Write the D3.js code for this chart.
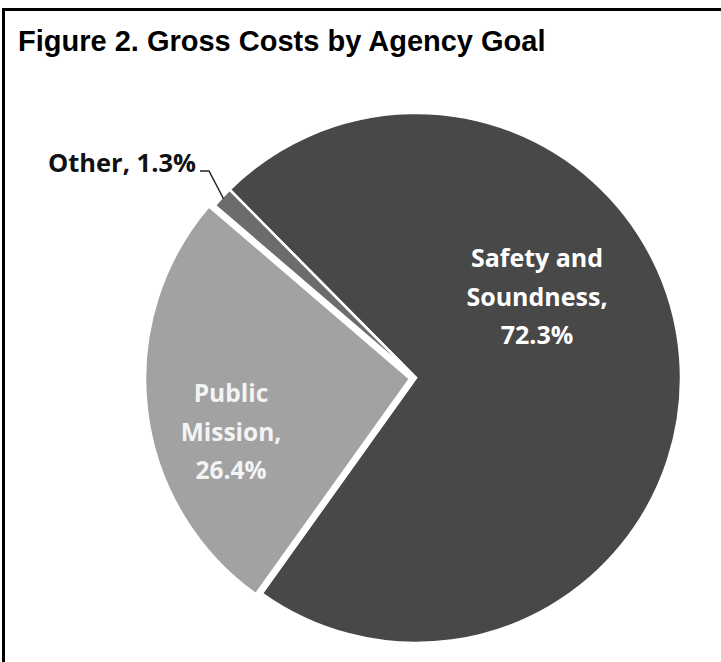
<!DOCTYPE html>
<html>
<head>
<meta charset="utf-8">
<script src="https://cdn.jsdelivr.net/npm/d3@7"></script>
<style>
  body { margin: 0; background: #fff; }
  svg { display: block; }
</style>
</head>
<body>
<div id="chart"></div>
<script>
// Data
const categories = ['Safety and Soundness', 'Public Mission', 'Other'];
const shares = [72.3, 26.4, 1.3];
const sliceColors = ['#484848', '#a2a2a2', '#6c6c6c'];

const width = 721;
const height = 662;
const cx = 416, cy = 378, radius = 265;

// Where each label sits (layout, not data)
const labelLayout = {
	'Safety and Soundness': { x: 537, y: 267, size: 25, anchor: 'middle', fill: '#fff', lines: ['Safety and', 'Soundness,'] },
	'Public Mission': { x: 231, y: 402, size: 24.5, anchor: 'middle', fill: '#f4f4f4', lines: ['Public', 'Mission,'] },
	'Other': { x: 196, y: 172, size: 25.5, anchor: 'end', fill: '#111' }
};
const explode = { 'Public Mission': 6 };

const svg = d3.select('#chart')
	.append('svg')
	.attr('width', width)
	.attr('height', height);

// Frame around the figure
svg.append('rect')
	.attr('x', 3.5)
	.attr('y', 9.5)
	.attr('width', width + 10)
	.attr('height', height + 10)
	.attr('fill', 'none')
	.attr('stroke', '#000')
	.attr('stroke-width', 3);

// Title
svg.append('text')
	.attr('x', 18)
	.attr('y', 51)
	.style('font-family', '"Liberation Sans", Arial, sans-serif')
	.style('font-weight', 'bold')
	.style('font-size', '29px')
	.attr('fill', '#000')
	.text('Figure 2. Gross Costs by Agency Goal');

const data = categories.map((c, i) => ({ name: c, value: shares[i], color: sliceColors[i] }));

const startDeg = -44.7;
const pie = d3.pie()
	.sort(null)
	.value((d) => d.value)
	.startAngle(startDeg * Math.PI / 180)
	.endAngle((startDeg + 360) * Math.PI / 180);

const arc = d3.arc().innerRadius(0).outerRadius(radius);

const g = svg.append('g').attr('transform', `translate(${cx},${cy})`);

g.selectAll('path')
	.data(pie(data))
	.enter()
	.append('path')
	.attr('d', arc)
	.attr('transform', (d) => {
		const off = explode[d.data.name] || 0;
		const mid = (d.startAngle + d.endAngle) / 2;
		return `translate(${off * Math.sin(mid)},${-off * Math.cos(mid)})`;
	})
	.attr('fill', (d) => d.data.color)
	.attr('stroke', '#fff')
	.attr('stroke-width', 2.5)
	.attr('stroke-linejoin', 'miter');

// Slice labels
const labelFont = '"Open Sans", "Noto Sans", sans-serif';
data.forEach((d) => {
	const L = labelLayout[d.name];
	const pct = d.value.toFixed(1) + '%';
	if (L.lines) {
		const lines = L.lines.concat([pct]);
		const t = svg.append('text')
			.attr('text-anchor', L.anchor)
			.style('font-family', labelFont)
			.style('font-weight', 'bold')
			.style('font-size', L.size + 'px')
			.attr('fill', L.fill);
		lines.forEach((ln, i) => {
			t.append('tspan').attr('x', L.x).attr('y', L.y + i * 38.5).text(ln);
		});
	} else {
		svg.append('text')
			.attr('x', L.x)
			.attr('y', L.y)
			.attr('text-anchor', L.anchor)
			.style('font-family', labelFont)
			.style('font-weight', 'bold')
			.style('font-size', L.size + 'px')
			.attr('fill', L.fill)
			.text(d.name + ', ' + pct);
	}
});

// Leader line for the small slice
const other = pie(data).find((d) => d.data.name === 'Other');
const midO = (other.startAngle + other.endAngle) / 2;
const edge = [cx + (radius - 2) * Math.sin(midO), cy - (radius - 2) * Math.cos(midO)];
svg.append('path')
	.attr('d', d3.line()([[200, 171], [209, 171], edge]))
	.attr('fill', 'none')
	.attr('stroke', '#222')
	.attr('stroke-width', 1.5);
</script>
</body>
</html>
